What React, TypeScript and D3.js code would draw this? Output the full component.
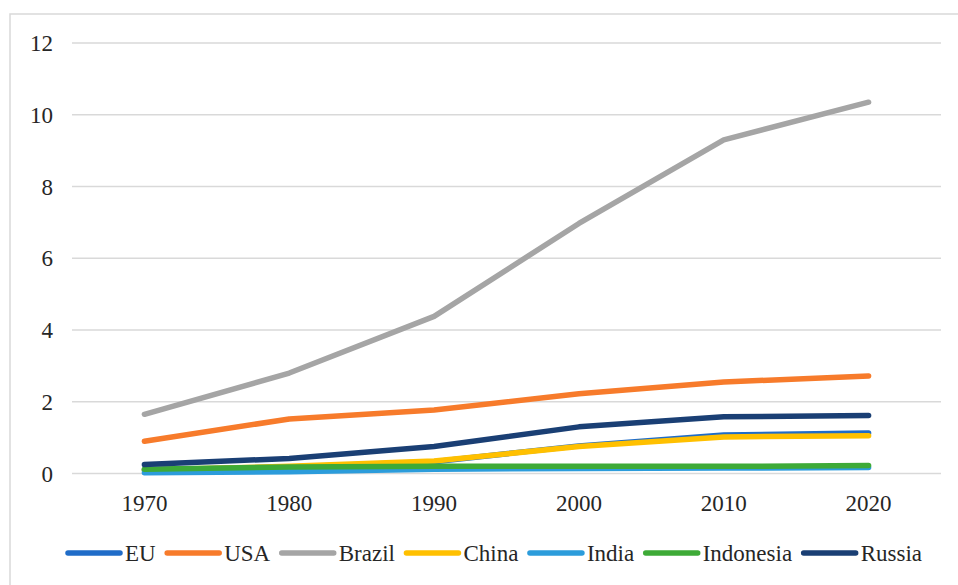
import React from "react";
import * as d3 from "d3";

const years = ["1970", "1980", "1990", "2000", "2010", "2020"];
const yTicks = [0, 2, 4, 6, 8, 10, 12];

const seriesNames = ["EU", "USA", "Brazil", "China", "India", "Indonesia", "Russia"];
const seriesColors = ["#1F6CC8", "#F77B2B", "#A5A5A5", "#FFC000", "#2C9CDB", "#3EAA37", "#1A3F74"];

const euValues = [0.1, 0.18, 0.33, 0.77, 1.07, 1.13];
const usaValues = [0.9, 1.52, 1.77, 2.22, 2.55, 2.72];
const brazilValues = [1.65, 2.8, 4.38, 6.97, 9.3, 10.35];
const chinaValues = [0.1, 0.2, 0.35, 0.75, 1.02, 1.05];
const indiaValues = [0.02, 0.05, 0.12, 0.14, 0.15, 0.17];
const indonesiaValues = [0.12, 0.18, 0.2, 0.2, 0.2, 0.22];
const russiaValues = [0.25, 0.42, 0.75, 1.3, 1.58, 1.62];

const seriesValues = [euValues, usaValues, brazilValues, chinaValues, indiaValues, indonesiaValues, russiaValues];

const W = 958;
const H = 585;
const FONT = '"Liberation Serif", "Times New Roman", serif';
const FS = 23;

function measure(text: string): number {
  const c = document.createElement("canvas");
  const ctx = c.getContext("2d");
  if (!ctx) return text.length * FS * 0.5;
  ctx.font = `${FS}px "Liberation Serif", serif`;
  return ctx.measureText(text).width;
}

const textStyle: React.CSSProperties = { fontFamily: FONT, fontSize: FS };

export default function App() {
  const x = d3.scalePoint<string>().domain(years).range([72, 941]).padding(0.5);
  const y = d3.scaleLinear().domain([0, 12]).range([473.5, 43]);
  const line = d3
    .line<number>()
    .x((_, i) => x(years[i]) as number)
    .y((v) => y(v));

  // legend layout, spread from x=66 to x=922
  const swatch = 56;
  const gapST = 3;
  const widths = seriesNames.map(measure);
  const used = widths.reduce((a, b) => a + b, 0) + seriesNames.length * (swatch + gapST);
  const gapTS = (922 - 66 - used) / (seriesNames.length - 1);
  let cursor = 66;
  const legendItems = seriesNames.map((name, i) => {
    const item = { name, color: seriesColors[i], x: cursor };
    cursor += swatch + gapST + widths[i] + gapTS;
    return item;
  });
  const legendY = 553;

  return (
    <svg
      width={W}
      height={H}
      style={{ position: "absolute", left: 0, top: 0, background: "#fff" }}
    >
      <rect x={10} y={14} width={960} height={600} fill="#fff" stroke="#d9d9d9" strokeWidth={1.5} />
      {yTicks.map((t) => (
        <g key={t}>
          <line x1={72} x2={941} y1={y(t)} y2={y(t)} stroke="#d9d9d9" strokeWidth={1.5} />
          <text x={53} y={y(t)} dy="0.35em" textAnchor="end" style={textStyle} fill="#262626">
            {t}
          </text>
        </g>
      ))}
      {years.map((yr) => (
        <text key={yr} x={x(yr)} y={503} dy="0.35em" textAnchor="middle" style={textStyle} fill="#262626">
          {yr}
        </text>
      ))}
      {seriesValues.map((vals, i) => (
        <path
          key={seriesNames[i]}
          d={line(vals) || ""}
          fill="none"
          stroke={seriesColors[i]}
          strokeWidth={5.5}
          strokeLinecap="round"
          strokeLinejoin="round"
        />
      ))}
      {legendItems.map((it) => (
        <g key={it.name}>
          <line
            x1={it.x + 2}
            x2={it.x + swatch - 2}
            y1={legendY}
            y2={legendY}
            stroke={it.color}
            strokeWidth={5.5}
            strokeLinecap="round"
          />
          <text x={it.x + swatch + gapST} y={legendY} dy="0.35em" style={textStyle} fill="#262626">
            {it.name}
          </text>
        </g>
      ))}
    </svg>
  );
}
